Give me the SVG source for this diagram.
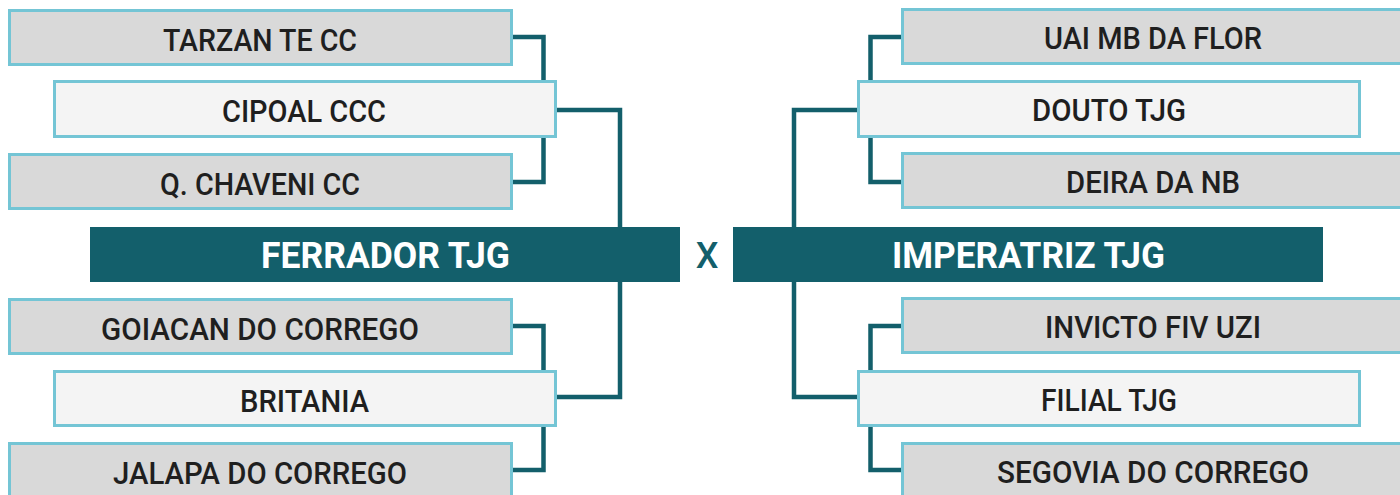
<svg xmlns="http://www.w3.org/2000/svg" width="1400" height="495" viewBox="0 0 1400 495">
<style>
.box{fill:#d9d9d9;stroke:#74c5d5;stroke-width:3}
.mid{fill:#f4f4f4;stroke:#74c5d5;stroke-width:3}
.banner{fill:#135f6b}
.t{font-family:Roboto,"Liberation Sans",sans-serif;font-weight:500;font-size:32px;fill:#1f1f1f;text-anchor:middle}
.bt{font-family:Roboto,"Liberation Sans",sans-serif;font-weight:700;font-size:36px;fill:#ffffff;text-anchor:middle}
.x{font-family:Roboto,"Liberation Sans",sans-serif;font-weight:500;font-size:36px;fill:#135f6b;text-anchor:middle}
.c{fill:none;stroke:#135f6b;stroke-width:4.5;stroke-linejoin:miter}
</style>
<rect width="1400" height="495" fill="#ffffff"/>
<g id="connectors">
<path class="c" d="M513 37 H543.5 V81"/>
<path class="c" d="M513 182 H543.5 V137"/>
<path class="c" d="M557 110 H620 V228"/>
<path class="c" d="M620 281 V397 H557"/>
<path class="c" d="M513 326 H543.5 V371"/>
<path class="c" d="M513 470 H543.5 V425"/>
<path class="c" d="M901 37 H870.5 V81"/>
<path class="c" d="M901 182 H870.5 V137"/>
<path class="c" d="M857 110 H794 V228"/>
<path class="c" d="M794 281 V397 H857"/>
<path class="c" d="M901 326 H870.5 V371"/>
<path class="c" d="M901 470 H870.5 V425"/>
</g>
<g id="tarzan"><rect class="box" x="9.5" y="10.5" width="502" height="54"/><text class="t" x="260" y="51" textLength="194" lengthAdjust="spacingAndGlyphs">TARZAN TE CC</text></g>
<g id="cipoal"><rect class="mid" x="54.5" y="81.5" width="501" height="55"/><text class="t" x="304" y="122" textLength="164" lengthAdjust="spacingAndGlyphs">CIPOAL CCC</text></g>
<g id="chaveni"><rect class="box" x="9.5" y="154.5" width="502" height="54"/><text class="t" x="260" y="195" textLength="200" lengthAdjust="spacingAndGlyphs">Q. CHAVENI CC</text></g>
<g id="ferrador"><rect class="banner" x="90" y="227" width="590" height="55"/><text class="bt" x="385.5" y="268" textLength="249" lengthAdjust="spacingAndGlyphs">FERRADOR TJG</text></g>
<g id="goiacan"><rect class="box" x="9.5" y="299.5" width="502" height="54"/><text class="t" x="260" y="340" textLength="318" lengthAdjust="spacingAndGlyphs">GOIACAN DO CORREGO</text></g>
<g id="britania"><rect class="mid" x="54.5" y="371.5" width="501" height="54"/><text class="t" x="304.5" y="412" textLength="129" lengthAdjust="spacingAndGlyphs">BRITANIA</text></g>
<g id="jalapa"><rect class="box" x="9.5" y="443.5" width="502" height="54"/><text class="t" x="260" y="484" textLength="294" lengthAdjust="spacingAndGlyphs">JALAPA DO CORREGO</text></g>
<g id="versus"><text class="x" x="707" y="268">X</text></g>
<g id="uai"><rect class="box" x="902.5" y="9.5" width="502" height="54"/><text class="t" x="1153" y="49" textLength="218" lengthAdjust="spacingAndGlyphs">UAI MB DA FLOR</text></g>
<g id="douto"><rect class="mid" x="858.5" y="81.5" width="501" height="55"/><text class="t" x="1109" y="121" textLength="154" lengthAdjust="spacingAndGlyphs">DOUTO TJG</text></g>
<g id="deira"><rect class="box" x="902.5" y="153.5" width="502" height="54"/><text class="t" x="1153" y="193" textLength="174" lengthAdjust="spacingAndGlyphs">DEIRA DA NB</text></g>
<g id="imperatriz"><rect class="banner" x="733" y="227" width="590" height="55"/><text class="bt" x="1028.5" y="268" textLength="273" lengthAdjust="spacingAndGlyphs">IMPERATRIZ TJG</text></g>
<g id="invicto"><rect class="box" x="902.5" y="298.5" width="502" height="54"/><text class="t" x="1153" y="338" textLength="216" lengthAdjust="spacingAndGlyphs">INVICTO FIV UZI</text></g>
<g id="filial"><rect class="mid" x="858.5" y="371.5" width="501" height="54"/><text class="t" x="1109" y="411" textLength="136" lengthAdjust="spacingAndGlyphs">FILIAL TJG</text></g>
<g id="segovia"><rect class="box" x="902.5" y="443.5" width="502" height="54"/><text class="t" x="1153" y="483" textLength="312" lengthAdjust="spacingAndGlyphs">SEGOVIA DO CORREGO</text></g>
</svg>
